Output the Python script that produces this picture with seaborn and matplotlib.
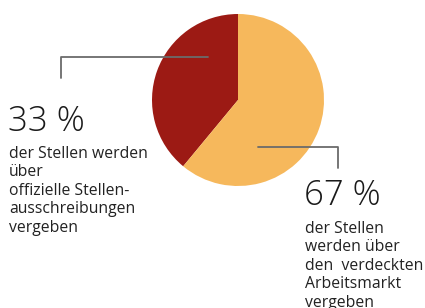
import matplotlib
matplotlib.use("Agg")
import matplotlib.pyplot as plt
import seaborn as sns

# Daten
segmente = ["offizielle Stellenausschreibungen", "verdeckter Arbeitsmarkt"]
anteil = [39, 61]                      # Anteil der Tortenstücke (wie gezeichnet)
prozent_labels = ["33 %", "67 %"]
beschreibung = ["der Stellen werden\nüber\noffizielle Stellen-\nausschreibungen\nvergeben",
                "der Stellen\nwerden über\nden  verdeckten\nArbeitsmarkt\nvergeben"]
farben = ["#9c1a14", "#f6b85c"]

sns.set_style("white")
plt.rcParams["font.family"] = ["Open Sans", "DejaVu Sans"]

fig = plt.figure(figsize=(4.25, 3.08), dpi=100)
ax = fig.add_axes([0, 0, 1, 1])

# Torte
ax.pie(anteil, colors=farben, startangle=90, counterclock=True,
       center=(238, 208), radius=86, frame=True,
       wedgeprops=dict(linewidth=0))
ax.set_xlim(0, 425)
ax.set_ylim(0, 308)
ax.set_aspect("equal")
ax.axis("off")

# Verbindungslinien
ax.plot([61, 61, 208], [308-78, 308-57, 308-57], color="#6b6b6b", lw=1.3)
ax.plot([258, 338, 338], [308-147, 308-147, 308-168], color="#6b6b6b", lw=1.3)

# Texte
ax.text(8, 308-131, prozent_labels[0], fontsize=25,
        fontweight="light", color="#1a1a1a", va="baseline")
ax.text(9, 308-146, beschreibung[0], fontsize=11.3, color="#222222",
        va="top", linespacing=1.2)

ax.text(304, 308-205, prozent_labels[1], fontsize=25,
        fontweight="light", color="#1a1a1a", va="baseline")
ax.text(305, 308-221, beschreibung[1], fontsize=11.3, color="#222222",
        va="top", linespacing=1.2)

fig.savefig("out.png", dpi=100)
